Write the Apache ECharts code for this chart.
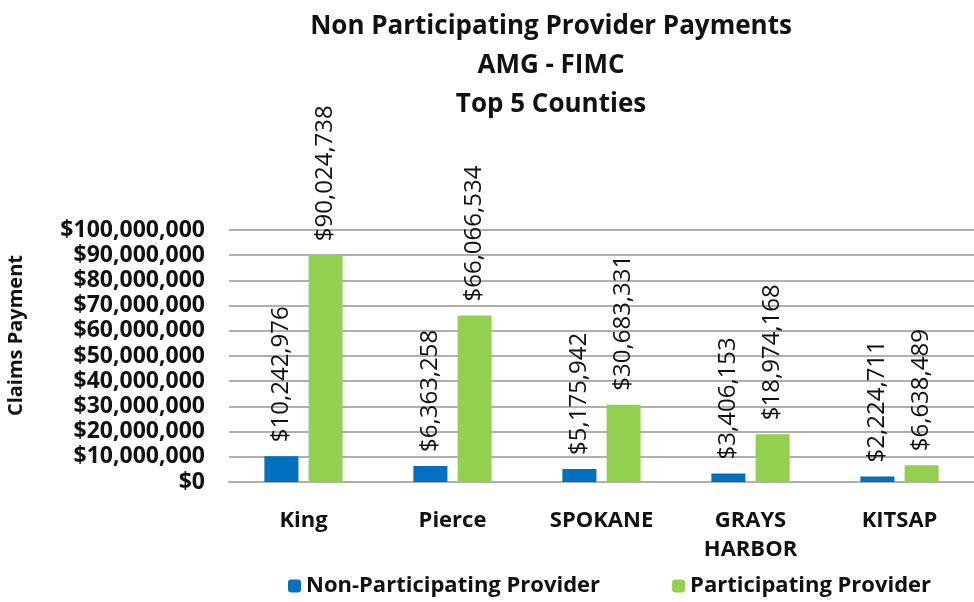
<!DOCTYPE html>
<html><head><meta charset="utf-8">
<script src="https://cdn.jsdelivr.net/npm/echarts@6/dist/echarts.min.js"></script>
<style>html,body{margin:0;padding:0;background:#fff}#c{width:974px;height:602px}</style>
</head><body><div id="c"></div>
<script>
const categories = ['King', 'Pierce', 'SPOKANE', 'GRAYS\nHARBOR', 'KITSAP'];
const nonParticipating = [10242976, 6363258, 5175942, 3406153, 2224711];
const participating = [90024738, 66066534, 30683331, 18974168, 6638489];
const seriesNames = ['Non-Participating Provider', 'Participating Provider'];
const titleLines = ['Non Participating Provider Payments', 'AMG - FIMC', 'Top 5 Counties'];
const yAxisTitle = 'Claims Payment';

const FONT = '"Open Sans", "Noto Sans", sans-serif';
const money = v => '$' + Math.round(v).toLocaleString('en-US');
const chart = echarts.init(document.getElementById('c'));
const lbl = {
  show: true, position: 'top', rotate: 90, align: 'left', verticalAlign: 'middle',
  distance: 14, formatter: p => money(p.value), fontFamily: FONT, fontSize: 24,
  color: '#111'
};
chart.setOption({
  animation: false,
  title: {
    text: titleLines.join('\n'), left: 546, textAlign: 'center', top: 2,
    textStyle: { fontFamily: FONT, fontSize: 26, fontWeight: 'bold', color: '#111', lineHeight: 39 }
  },
  legend: {
    bottom: 0, left: 283, itemWidth: 13, itemHeight: 13, itemGap: 72,
    textStyle: { fontFamily: FONT, fontSize: 22, fontWeight: 'bold', color: '#111' },
    data: seriesNames
  },
  graphic: [{
    type: 'text', left: 6, top: 255, rotation: Math.PI / 2,
    style: { text: yAxisTitle, fontFamily: FONT, fontSize: 20, fontWeight: 'bold', fill: '#111' }
  }],
  grid: { left: 229, right: -4, top: 230, bottom: 120 },
  xAxis: {
    type: 'category', data: categories,
    axisLine: { show: true, lineStyle: { color: '#b0b0b0', width: 2 } },
    axisTick: { show: false },
    axisLabel: { fontFamily: FONT, fontSize: 22, fontWeight: 'bold', color: '#111', margin: 24, lineHeight: 29 }
  },
  yAxis: {
    type: 'value', min: 0, max: 100000000, interval: 10000000,
    axisLabel: { formatter: v => money(v), fontFamily: FONT, fontSize: 23, fontWeight: 'bold', color: '#111', margin: 24 },
    splitLine: { lineStyle: { color: '#b0b0b0', width: 2 } },
    axisLine: { show: false }, axisTick: { show: false }
  },
  series: [
    { name: seriesNames[0], type: 'bar', data: nonParticipating, barWidth: 34, barGap: '30%',
      itemStyle: { color: '#0070C0' }, label: lbl },
    { name: seriesNames[1], type: 'bar', data: participating, barWidth: 34,
      itemStyle: { color: '#92D050' }, label: lbl }
  ]
});
</script></body></html>
